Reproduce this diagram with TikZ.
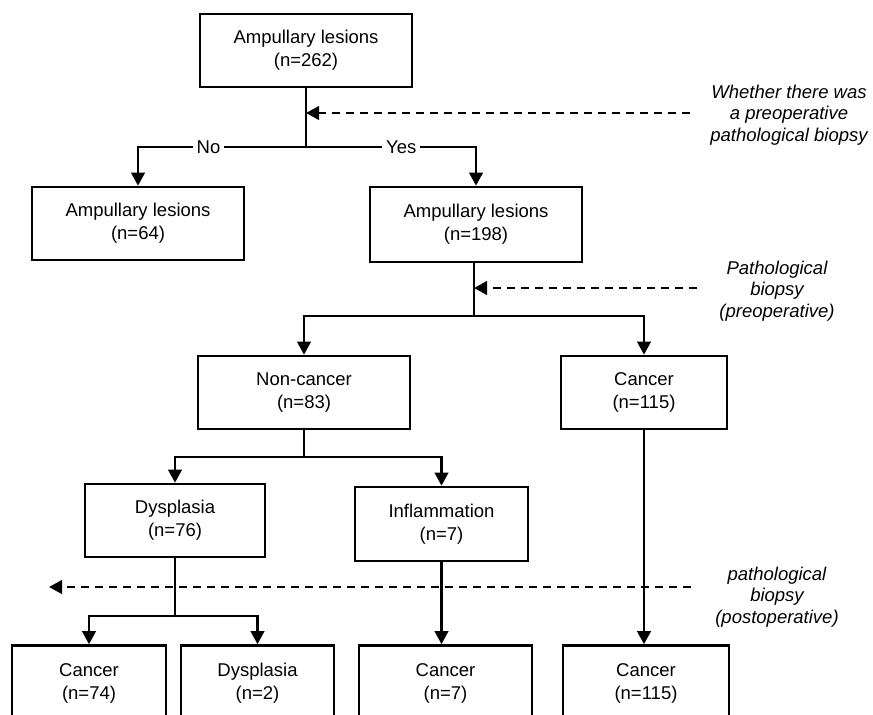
\documentclass[tikz,border=0pt]{standalone}
\usepackage{fontspec}
\setmainfont{Liberation Sans}
\usetikzlibrary{arrows.meta}
\begin{document}
\begin{tikzpicture}[x=1pt,y=-1pt,line width=2.3pt,
>={Triangle[length=13pt,width=13.5pt]},
flowbox/.style={draw,rectangle,line width=2.6pt,align=center,inner sep=0pt,minimum height=73pt,font=\fontsize{18.5}{23}\selectfont},
sidenote/.style={align=center,font=\fontsize{18.5}{21.5}\selectfont\itshape},
branch/.style={fill=white,inner xsep=4pt,inner ysep=1pt,font=\fontsize{18.5}{22}\selectfont},
dashline/.style={line width=2.6pt,dash pattern=on 8pt off 6pt}]

\clip (0,0) rectangle (873,715);

\node[flowbox,minimum width=212pt] (all) at (306,50.5) {Ampullary lesions\\(n=262)};
\node[flowbox,minimum width=212pt] (amp64) at (138,223.5) {Ampullary lesions\\(n=64)};
\node[flowbox,minimum width=212pt,minimum height=75pt] (amp198) at (476,224.5) {Ampullary lesions\\(n=198)};

\node[flowbox,minimum width=212pt] (noncan) at (304,392.5) {Non-cancer\\(n=83)};
\node[flowbox,minimum width=166pt] (can115a) at (644,392.5) {Cancer\\(n=115)};

\node[flowbox,minimum width=180pt] (dys76) at (175,520.5) {Dysplasia\\(n=76)};
\node[flowbox,minimum width=173pt,minimum height=74pt] (infl) at (441.5,524) {Inflammation\\(n=7)};

\node[flowbox,minimum width=154pt,minimum height=75pt] (can74) at (89,683) {Cancer\\(n=74)};
\node[flowbox,minimum width=153pt,minimum height=75pt] (dys2) at (257.5,683) {Dysplasia\\(n=2)};
\node[flowbox,minimum width=173pt,minimum height=75pt] (can7) at (445.5,683) {Cancer\\(n=7)};
\node[flowbox,minimum width=166pt,minimum height=75pt] (can115b) at (646,683) {Cancer\\(n=115)};

% side notes
\node[sidenote] (q1) at (789,115) {Whether there was\\a preoperative\\pathological biopsy};
\node[sidenote] (q2) at (777,291) {Pathological\\biopsy\\(preoperative)};
\node[sidenote] (q3) at (777,597) {pathological\\biopsy\\(postoperative)};

% split points
\coordinate (s1) at (306,147);
\coordinate (s2) at (474,316);
\coordinate (s3) at (304,457);
\coordinate (s4) at (175,616);

\draw (all.south) -- (s1);
\draw[->] (s1) -| (amp64.north) node[branch,pos=0.29] {No};
\draw[->] (s1) -| (amp198.north) node[branch,pos=0.28] {Yes};

\draw (s2 |- amp198.south) -- (s2);
\draw[->] (s2) -| (noncan.north);
\draw[->] (s2) -| (can115a.north);

\draw (noncan.south) -- (s3);
\draw[->] (s3) -| (dys76.north);
\draw[->] (s3) -| (infl.north);

\draw (dys76.south) -- (s4);
\draw[->] (s4) -| (can74.north);
\draw[->] (s4) -| (dys2.north);

\draw[->] (infl.south) -- (infl.south |- can7.north);
\draw[->] (can115a.south) -- (can115a.south |- can115b.north);

% dashed arrows
\coordinate (d1) at (690,113);
\coordinate (d2) at (697,288);
\coordinate (d3) at (691,587);
\coordinate (d3end) at (49,587);
\draw[->,dashline] (d1) -- (s1 |- d1);
\draw[->,dashline] (d2) -- (s2 |- d2);
\draw[->,dashline] (d3) -- (d3end);

\end{tikzpicture}
\end{document}
